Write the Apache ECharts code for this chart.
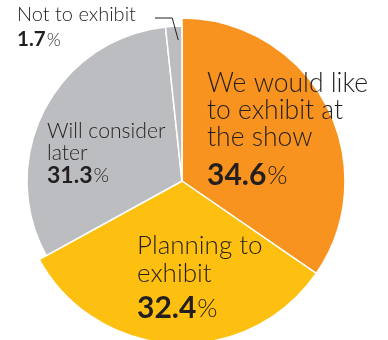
<!DOCTYPE html>
<html>
<head>
<meta charset="utf-8">
<title>Exhibition intention</title>
<script src="https://cdn.jsdelivr.net/npm/echarts@6/dist/echarts.min.js"></script>
<style>
  html, body { margin: 0; padding: 0; background: #fff; }
  #chart { width: 388px; height: 340px; }
</style>
</head>
<body>
<div id="chart"></div>
<script>
// Survey answers, clockwise from 12 o'clock
const categories = ['We would like\nto exhibit at\nthe show', 'Planning to\nexhibit', 'Will consider\nlater', 'Not to exhibit'];
const shares = [34.6, 32.4, 31.3, 1.7];
const colors = ['#F7931E', '#FEC010', '#BCBDC0', '#BCBDC0'];
// The two "undecided / no" answers sit on a slightly smaller ring
const outerGroup = [true, true, false, false];

const CENTER = [182, 181];
const R_BIG = 163;
const R_SMALL = 155;
const TEXT = '#231F20';
const FONT = 'Lato, "Open Sans", sans-serif';

// Label blocks: anchor of the top-left corner of each text block
const labelAnchors = [
  { x: 207, y: 70 },
  { x: 137, y: 232 },
  { x: 47, y: 120 },
  { x: 17, y: 3 }
];
// Text sizes per answer: [name font, name line height, number font, number line height]
const labelSizes = [
  [26.5, 27, 30, 39],
  [26, 28, 30, 35],
  [21.2, 22, 23, 23],
  [20, 24, 20.5, 23]
];

function richFor(i) {
  const s = labelSizes[i];
  return {
    t: { fontFamily: FONT, fontSize: s[0], lineHeight: s[1], fontWeight: 300, color: TEXT },
    n: { fontFamily: FONT, fontSize: s[2], lineHeight: s[3], fontWeight: 'bold', color: TEXT, verticalAlign: 'bottom' },
    p: { fontFamily: FONT, fontSize: Math.round(s[2] * 0.88), lineHeight: s[3], fontWeight: 300, color: TEXT, verticalAlign: 'bottom', padding: [0, 0, 1, 1] }
  };
}

function labelText(i) {
  const lines = categories[i].split('\n').map(l => '{t|' + l + '}');
  lines.push('{n|' + shares[i].toFixed(1) + '}{p|%}');
  return lines.join('\n');
}

function ringData(showOuter) {
  return categories.map((name, i) => {
    const mine = outerGroup[i] === showOuter;
    return {
      name: name,
      value: shares[i],
      itemStyle: mine
        ? { color: colors[i], borderColor: '#fff', borderWidth: 1.5 }
        : { color: 'rgba(0,0,0,0)', borderWidth: 0 },
      label: mine
        ? { show: true, position: 'inside', formatter: labelText(i), rich: richFor(i), align: 'left', verticalAlign: 'top' }
        : { show: false }
    };
  });
}

function placeLabel(params) {
  const a = labelAnchors[params.dataIndex];
  return { x: a.x, y: a.y, align: 'left', verticalAlign: 'top' };
}

const baseSeries = {
  type: 'pie',
  center: CENTER,
  startAngle: 90,
  clockwise: true,
  silent: true,
  animation: false,
  labelLine: { show: false },
  emphasis: { disabled: true },
  labelLayout: placeLabel
};

// Leader line for the thin "Not to exhibit" wedge, anchored inside that wedge
const totalShare = shares.reduce((a, b) => a + b, 0);
const wedgeStart = shares.slice(0, 3).reduce((a, b) => a + b, 0) / totalShare * 360;
const wedgeAngle = (wedgeStart + shares[3] / totalShare * 360 * 0.75) * Math.PI / 180;
const tip = [CENTER[0] + Math.sin(wedgeAngle) * (R_SMALL - 14), CENTER[1] - Math.cos(wedgeAngle) * (R_SMALL - 14)];
const leader = [[155, 18], [tip[0] - 6, 18], tip];

const chart = echarts.init(document.getElementById('chart'), null, { renderer: 'canvas' });
chart.setOption({
  animation: false,
  series: [
    Object.assign({}, baseSeries, { name: 'main', radius: [0, R_BIG], data: ringData(true) }),
    Object.assign({}, baseSeries, { name: 'rest', radius: [0, R_SMALL], data: ringData(false) })
  ],
  graphic: [{
    type: 'polyline',
    shape: { points: leader },
    style: { stroke: '#231F20', lineWidth: 1, fill: null },
    z: 100,
    silent: true
  }]
});
</script>
</body>
</html>
